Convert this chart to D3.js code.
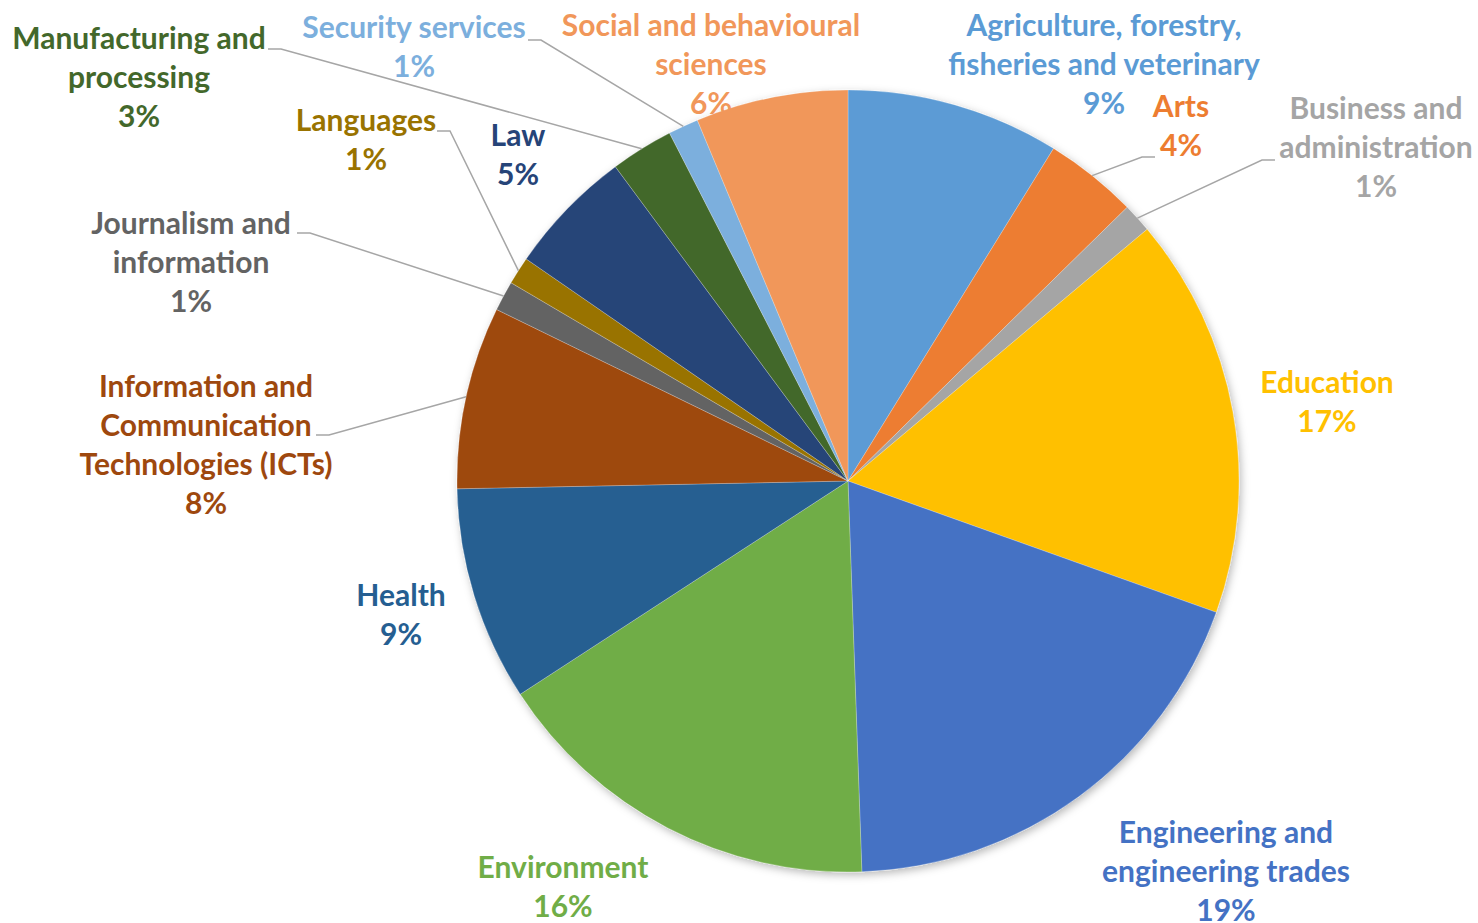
<!DOCTYPE html>
<html>
<head>
<meta charset="utf-8">
<script src="https://cdn.jsdelivr.net/npm/d3@7"></script>
<style>
  html, body { margin: 0; padding: 0; background: #fff; }
  svg { display: block; }
  text { font-family: "Lato", "Open Sans", sans-serif; font-weight: 700; }
</style>
</head>
<body>
<svg id="chart" width="1478" height="923"></svg>
<script>
// ---------- data ----------
const categories = [
  "Agriculture, forestry, fisheries and veterinary",
  "Arts",
  "Business and administration",
  "Education",
  "Engineering and engineering trades",
  "Environment",
  "Health",
  "Information and Communication Technologies (ICTs)",
  "Journalism and information",
  "Languages",
  "Law",
  "Manufacturing and processing",
  "Security services",
  "Social and behavioural sciences"
];
const values = [8.82, 3.85, 1.21, 16.6, 19.0, 16.4, 8.87, 7.55, 1.24, 1.15, 5.25, 2.6, 1.25, 6.3];
const colors = ["#5B9BD5", "#ED7D31", "#A5A5A5", "#FFC000", "#4472C4", "#70AD47", "#255E91",
                "#9E480E", "#636363", "#997300", "#264478", "#43682B", "#7CAFDD", "#F1975A"];
// label line breaks (as shown in the chart)
const labelLines = [
  ["Agriculture, forestry,", "fisheries and veterinary"],
  ["Arts"],
  ["Business and", "administration"],
  ["Education"],
  ["Engineering and", "engineering trades"],
  ["Environment"],
  ["Health"],
  ["Information and", "Communication", "Technologies (ICTs)"],
  ["Journalism and", "information"],
  ["Languages"],
  ["Law"],
  ["Manufacturing and", "processing"],
  ["Security services"],
  ["Social and behavioural", "sciences"]
];

// ---------- layout (label placement, leader anchors) ----------
const labelLayout = [
  { x: 1104, y: 36 },
  { x: 1181, y: 117, leader: { x: 1155, y: 157, dir: -1 } },
  { x: 1376, y: 119, leader: { x: 1275, y: 160, dir: -1 } },
  { x: 1327, y: 393 },
  { x: 1226, y: 843 },
  { x: 563, y: 878 },
  { x: 401, y: 606 },
  { x: 206, y: 397, leader: { x: 316, y: 435, dir: 1 } },
  { x: 191, y: 234, leader: { x: 297, y: 233, dir: 1 } },
  { x: 366, y: 131, leader: { x: 437, y: 131, dir: 1 } },
  { x: 518, y: 146 },
  { x: 139, y: 49, leader: { x: 268, y: 49, dir: 1 } },
  { x: 414, y: 38, leader: { x: 528, y: 40, dir: 1 } },
  { x: 711, y: 36 }
];

const W = 1478, H = 923;
const cx = 848, cy = 481, R = 391;
const fontSize = 30, lineH = 39;

const svg = d3.select("#chart");

const defs = svg.append("defs");
const f = defs.append("filter").attr("id", "shadow")
  .attr("x", "-10%").attr("y", "-10%").attr("width", "120%").attr("height", "120%");
f.append("feDropShadow").attr("dx", 2).attr("dy", 3).attr("stdDeviation", 4)
  .attr("flood-color", "#000").attr("flood-opacity", 0.28);

const data = categories.map((c, i) => ({ name: c, value: values[i], color: colors[i], lines: labelLines[i], layout: labelLayout[i] }));
const total = d3.sum(values);

const pie = d3.pie().value(d => d.value).sort(null).startAngle(0).endAngle(2 * Math.PI);
const arcs = pie(data);
const arc = d3.arc().innerRadius(0).outerRadius(R);

const g = svg.append("g").attr("transform", `translate(${cx},${cy})`);
g.append("g").attr("filter", "url(#shadow)")
  .selectAll("path").data(arcs).join("path")
  .attr("d", arc)
  .attr("fill", d => d.data.color)
  .attr("stroke", "#ffffff").attr("stroke-width", 0.4).attr("stroke-opacity", 0.6);

// leader lines
const pointAt = (angle, r) => [cx + r * Math.sin(angle), cy - r * Math.cos(angle)];
svg.append("g").selectAll("polyline")
  .data(arcs.filter(d => d.data.layout.leader))
  .join("polyline")
  .attr("points", d => {
    const L = d.data.layout.leader;
    const mid = (d.startAngle + d.endAngle) / 2;
    const p = pointAt(mid, R);
    return [[L.x, L.y], [L.x + L.dir * 13, L.y], p].map(q => q.join(",")).join(" ");
  })
  .attr("fill", "none").attr("stroke", "#A6A6A6").attr("stroke-width", 1.5);

// labels
const labels = svg.append("g").selectAll("text").data(arcs).join("text")
  .attr("text-anchor", "middle")
  .attr("font-size", fontSize)
  .attr("fill", d => d.data.color)
  .attr("x", d => d.data.layout.x)
  .attr("y", d => d.data.layout.y);
labels.each(function(d) {
  const t = d3.select(this);
  const lines = d.data.lines.concat([Math.round(d.data.value / total * 100) + "%"]);
  lines.forEach((ln, i) => {
    t.append("tspan").attr("x", d.data.layout.x).attr("y", d.data.layout.y + i * lineH).text(ln);
  });
});
</script>
</body>
</html>
